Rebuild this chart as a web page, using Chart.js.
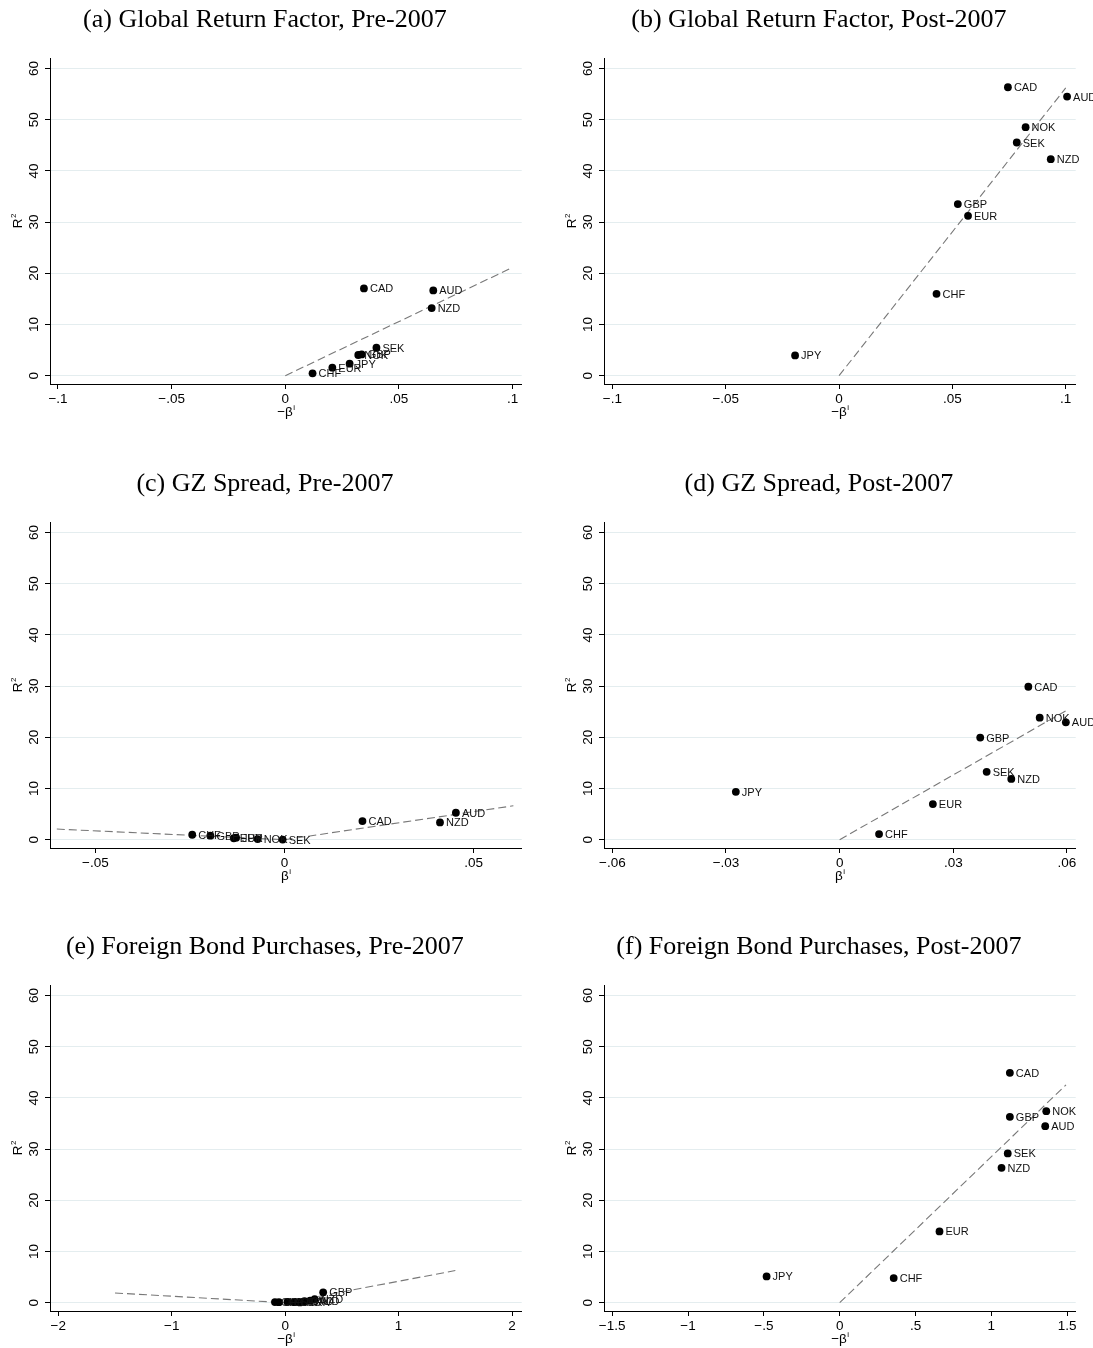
<!DOCTYPE html>
<html><head><meta charset="utf-8">
<script src="https://cdn.jsdelivr.net/npm/chart.js@4.4.1/dist/chart.umd.min.js"></script>
<style>
html,body{margin:0;padding:0;background:#fff;overflow:hidden;width:1093px;height:1348px;}
.p{position:absolute;}
canvas{display:block;}
</style></head><body>
<div class="p" style="left:0px;top:0px"><canvas id="ca" width="554" height="430"></canvas></div>
<div class="p" style="left:554px;top:0px"><canvas id="cb" width="539" height="430"></canvas></div>
<div class="p" style="left:0px;top:464px"><canvas id="cc" width="554" height="430"></canvas></div>
<div class="p" style="left:554px;top:464px"><canvas id="cd" width="539" height="430"></canvas></div>
<div class="p" style="left:0px;top:927px"><canvas id="ce" width="554" height="425"></canvas></div>
<div class="p" style="left:554px;top:927px"><canvas id="cf" width="539" height="425"></canvas></div>
<script>
// ---------------- DATA ----------------
const currencies = ["AUD","CAD","CHF","EUR","GBP","JPY","NOK","NZD","SEK"];
const yTicks = [0, 10, 20, 30, 40, 50, 60];
const yTickLabels = ["0", "10", "20", "30", "40", "50", "60"];

// (a) Global Return Factor, Pre-2007  (x = -beta, y = R^2)
const betaA = [0.0651, 0.0346, 0.0120, 0.0207, 0.0336, 0.0283, 0.0321, 0.0644, 0.0401];
const r2A   = [16.66, 17.05, 0.46, 1.56, 4.16, 2.34, 4.04, 13.21, 5.47];
const fitXA = [0, 0.1];
const fitYA = [0, 21.15];

// (b) Global Return Factor, Post-2007
const betaB = [0.1006, 0.0745, 0.0430, 0.0569, 0.0524, -0.0194, 0.0823, 0.0934, 0.0784];
const r2B   = [54.52, 56.34, 16.00, 31.23, 33.51, 3.97, 48.54, 42.29, 45.54];
const fitXB = [0, 0.1];
const fitYB = [0, 56.2];

// (c) GZ Spread, Pre-2007  (x = beta)
const betaC = [0.0453, 0.0206, -0.0244, -0.0134, -0.0196, -0.0128, -0.0071, 0.0411, -0.0005];
const r2C   = [5.26, 3.64, 0.97, 0.28, 0.78, 0.40, 0.13, 3.38, 0.02];
const fitXC = [-0.0602, 0, 0.0605];
const fitYC = [2.08, 0, 6.62];

// (d) GZ Spread, Post-2007
const betaD = [0.0597, 0.0498, 0.0104, 0.0246, 0.0371, -0.0274, 0.0528, 0.0453, 0.0388];
const r2D   = [22.92, 29.87, 1.10, 6.95, 19.94, 9.35, 23.83, 11.88, 13.25];
const fitXD = [0, 0.0599];
const fitYD = [0, 25.26];

// (e) Foreign Bond Purchases, Pre-2007
const betaE = [0.22, 0.17, -0.09, 0.02, 0.335, -0.055, 0.13, 0.26, 0.08];
const r2E   = [0.40, 0.30, 0.12, 0.15, 2.02, 0.10, 0.05, 0.70, 0.10];
const fitXE = [-1.5, 0, 1.5];
const fitYE = [1.9, 0, 6.28];

// (f) Foreign Bond Purchases, Post-2007
const betaF = [1.355, 1.122, 0.356, 0.658, 1.122, -0.482, 1.362, 1.067, 1.108];
const r2F   = [34.48, 44.90, 4.81, 13.92, 36.30, 5.14, 37.41, 26.35, 29.15];
const fitXF = [0, 1.492];
const fitYF = [0, 42.55];

const xTicksAB = [-0.1, -0.05, 0, 0.05, 0.1];
const xLabelsAB = ["\u2212.1", "\u2212.05", "0", ".05", ".1"];
const xTicksC = [-0.05, 0, 0.05];
const xLabelsC = ["\u2212.05", "0", ".05"];
const xTicksD = [-0.06, -0.03, 0, 0.03, 0.06];
const xLabelsD = ["\u2212.06", "\u2212.03", "0", ".03", ".06"];
const xTicksE = [-2, -1, 0, 1, 2];
const xLabelsE = ["\u22122", "\u22121", "0", "1", "2"];
const xTicksF = [-1.5, -1, -0.5, 0, 0.5, 1, 1.5];
const xLabelsF = ["\u22121.5", "\u22121", "\u2212.5", "0", ".5", "1", "1.5"];

const titles = [
  "(a) Global Return Factor, Pre-2007",
  "(b) Global Return Factor, Post-2007",
  "(c) GZ Spread, Pre-2007",
  "(d) GZ Spread, Post-2007",
  "(e) Foreign Bond Purchases, Pre-2007",
  "(f) Foreign Bond Purchases, Post-2007"
];

// ---------------- DRAWING ----------------
const SANS = '"Liberation Sans", Arial, Helvetica, sans-serif';
const SERIF = '"Liberation Serif", "Times New Roman", serif';
const PLOT = {left: 50, right: 521.7, top: 58.5, bottom: 384};
const Y_MIN = -1.62, Y_MAX = 61.95;

function makePanel(id, spec) {
  const el = document.getElementById(id);
  const W = el.width, H = el.height;
  const pts = spec.x.map((v, i) => ({x: v, y: spec.y[i]}));
  const fit = spec.fitX.map((v, i) => ({x: v, y: spec.fitY[i]}));
  const textPlugin = {
    id: 'texts_' + id,
    afterDraw(chart) {
      const ctx = chart.ctx;
      const xs = chart.scales.x, ys = chart.scales.y;
      const a = chart.chartArea;
      ctx.save();
      ctx.fillStyle = '#000';
      // title
      ctx.font = '26px ' + SERIF;
      ctx.textAlign = 'center';
      ctx.textBaseline = 'alphabetic';
      ctx.fillText(spec.title, 264.9, 26.7);
      // x tick labels
      ctx.font = '13.5px ' + SANS;
      spec.xTicks.forEach((v, i) => {
        ctx.fillText(spec.xLabels[i], xs.getPixelForValue(v), a.bottom + 18.5);
      });
      // y tick labels (rotated)
      yTicks.forEach((v, i) => {
        ctx.save();
        ctx.translate(a.left - 11.7, ys.getPixelForValue(v));
        ctx.rotate(-Math.PI / 2);
        ctx.textAlign = 'center';
        ctx.fillText(yTickLabels[i], 0, 0);
        ctx.restore();
      });
      // x axis title
      const main = spec.neg ? '\u2212\u03B2' : '\u03B2';
      ctx.textAlign = 'left';
      ctx.font = '13.5px ' + SANS;
      const w1 = ctx.measureText(main).width;
      ctx.font = '8px ' + SANS;
      const w2 = ctx.measureText('i').width;
      const cx = (a.left + a.right) / 2;
      const x0 = cx - (w1 + w2) / 2;
      ctx.font = '13.5px ' + SANS;
      ctx.fillText(main, x0, a.bottom + 32);
      ctx.font = '8px ' + SANS;
      ctx.fillText('i', x0 + w1 + 0.5, a.bottom + 26);
      // y axis title R^2
      ctx.save();
      ctx.translate(22, (a.top + a.bottom) / 2);
      ctx.rotate(-Math.PI / 2);
      ctx.font = '13.5px ' + SANS;
      const wR = ctx.measureText('R').width;
      ctx.font = '8px ' + SANS;
      const w3 = ctx.measureText('2').width;
      const rx = -(wR + w3) / 2;
      ctx.font = '13.5px ' + SANS;
      ctx.fillText('R', rx, 0);
      ctx.font = '8px ' + SANS;
      ctx.fillText('2', rx + wR + 0.5, -6);
      ctx.restore();
      // point labels
      ctx.font = '11px ' + SANS;
      ctx.fillStyle = '#111';
      const meta = chart.getDatasetMeta(0);
      meta.data.forEach((pt, i) => {
        ctx.fillText(currencies[i], pt.x + 6, pt.y + 4);
      });
      ctx.restore();
    }
  };
  new Chart(el, {
    type: 'scatter',
    data: {
      datasets: [
        {type: 'scatter', data: pts, pointRadius: 3.9, pointBackgroundColor: '#000',
         pointBorderWidth: 0, pointBorderColor: '#000', order: 0},
        {type: 'line', data: fit, borderColor: '#787878', borderWidth: 1.1, borderDash: [8, 4],
         pointRadius: 0, fill: false, tension: 0, order: 1, showLine: true}
      ]
    },
    options: {
      responsive: false, animation: false, events: [],
      devicePixelRatio: 1,
      layout: {padding: {left: 0, top: PLOT.top, right: W - PLOT.right, bottom: 0}},
      plugins: {legend: {display: false}, tooltip: {enabled: false}, title: {display: false}},
      scales: {
        x: {
          type: 'linear', min: spec.xMin, max: spec.xMax,
          afterBuildTicks: s => { s.ticks = spec.xTicks.map(v => ({value: v})); },
          afterFit: s => { s.height = H - PLOT.bottom; },
          ticks: {display: false},
          grid: {display: true, drawOnChartArea: false, drawTicks: true, tickLength: 5,
                 tickColor: '#000', tickWidth: 1},
          border: {display: true, color: '#000', width: 1}
        },
        y: {
          type: 'linear', min: Y_MIN, max: Y_MAX,
          afterBuildTicks: s => { s.ticks = yTicks.map(v => ({value: v})); },
          afterFit: s => { s.width = PLOT.left; },
          ticks: {display: false},
          grid: {display: true, drawOnChartArea: true, color: '#e4edef', lineWidth: 1,
                 drawTicks: true, tickLength: 5, tickColor: '#000', tickWidth: 1},
          border: {display: true, color: '#000', width: 1}
        }
      }
    },
    plugins: [textPlugin]
  });
}

makePanel('ca', {title: titles[0], x: betaA, y: r2A, fitX: fitXA, fitY: fitYA,
  xMin: -0.1035, xMax: 0.104, xTicks: xTicksAB, xLabels: xLabelsAB, neg: true});
makePanel('cb', {title: titles[1], x: betaB, y: r2B, fitX: fitXB, fitY: fitYB,
  xMin: -0.1037, xMax: 0.1044, xTicks: xTicksAB, xLabels: xLabelsAB, neg: true});
makePanel('cc', {title: titles[2], x: betaC, y: r2C, fitX: fitXC, fitY: fitYC,
  xMin: -0.0620, xMax: 0.0627, xTicks: xTicksC, xLabels: xLabelsC, neg: false});
makePanel('cd', {title: titles[3], x: betaD, y: r2D, fitX: fitXD, fitY: fitYD,
  xMin: -0.0622, xMax: 0.0623, xTicks: xTicksD, xLabels: xLabelsD, neg: false});
makePanel('ce', {title: titles[4], x: betaE, y: r2E, fitX: fitXE, fitY: fitYE,
  xMin: -2.073, xMax: 2.085, xTicks: xTicksE, xLabels: xLabelsE, neg: true});
makePanel('cf', {title: titles[5], x: betaF, y: r2F, fitX: fitXF, fitY: fitYF,
  xMin: -1.554, xMax: 1.556, xTicks: xTicksF, xLabels: xLabelsF, neg: true});
</script>
</body></html>
